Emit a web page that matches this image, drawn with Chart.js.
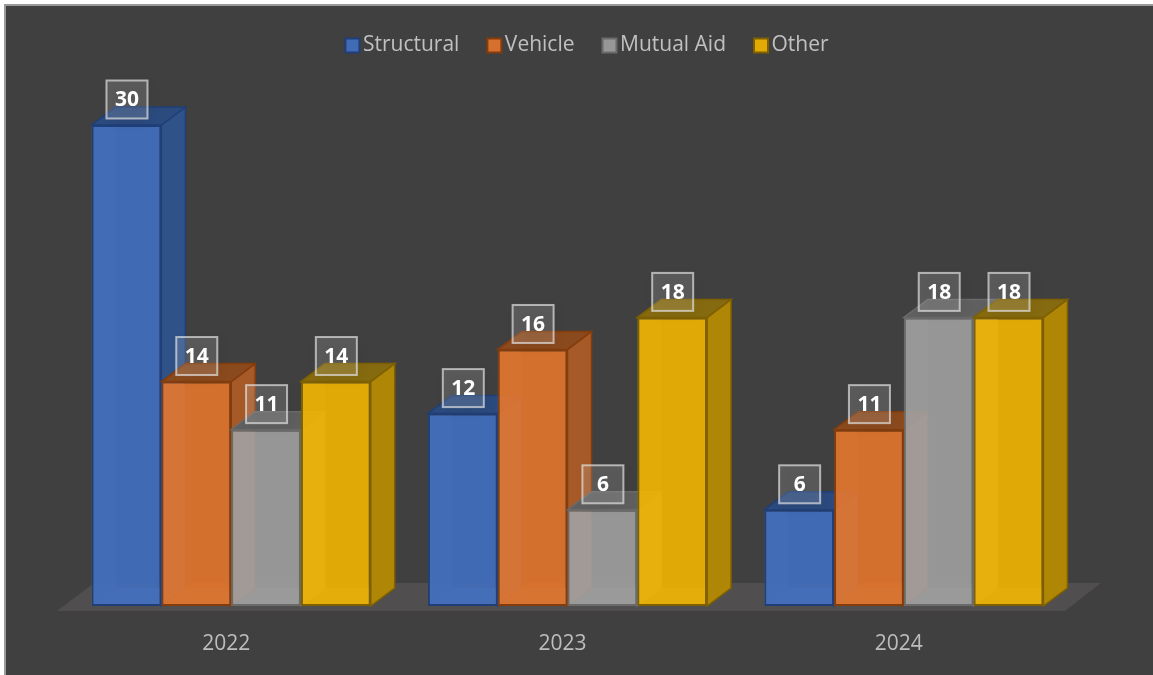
<!DOCTYPE html>
<html>
<head>
<meta charset="utf-8">
<title>Incidents by type</title>
<script src="https://cdn.jsdelivr.net/npm/chart.js@4/dist/chart.umd.min.js"></script>
<style>
  html, body { margin: 0; padding: 0; background: #fff; overflow: hidden; }
  #chart { display: block; }
</style>
</head>
<body>
<canvas id="chart" width="1153" height="675"></canvas>
<script>
const years = ['2022', '2023', '2024'];
const structural = [30, 12, 6];
const vehicle = [14, 16, 11];
const mutualAid = [11, 6, 18];
const other = [14, 18, 18];

// the fronts are see-through, so the neighbour's side shows as a faint strip
const palette = [
    { front: 'rgba(64,111,192,0.9)', solid: '#416bb5', edge: '#203f78', side: '#2f5289', top: '#2b4a7d' },
    { front: 'rgba(228,117,43,0.9)', solid: '#d6702e', edge: '#843c0c', side: '#a65a28', top: '#8a4a1e' },
    { front: 'rgba(160,160,160,0.9)', solid: '#979797', edge: '#6a6a6a', side: '#7a7a7a', top: '#5f5f5f' },
    { front: 'rgba(242,181,0,0.9)', solid: '#e1aa05', edge: '#7f6000', side: '#b08606', top: '#856a10' }
];

const DEPTH_X = 24;
const DEPTH_Y = 18;

function poly(ctx, pts, fill, stroke) {
    ctx.beginPath();
    pts.forEach((p, i) => i ? ctx.lineTo(p[0], p[1]) : ctx.moveTo(p[0], p[1]));
    ctx.closePath();
    ctx.fillStyle = fill;
    ctx.fill();
    if (stroke) {
        ctx.strokeStyle = stroke;
        ctx.lineWidth = 1.5;
        ctx.stroke();
    }
}

const backdrop = {
    id: 'backdrop',
    beforeInit(chart) {
        // room between the legend and the tallest bar
        const fit = chart.legend.fit;
        chart.legend.fit = function () {
            fit.call(this);
            this.height += 59;
        };
    },
    afterLayout(chart) {
        // the legend is centred on the picture, not on the plot
        chart.legend.left += 19;
        chart.legend.right += 19;
    },
    beforeDraw(chart) {
        const { ctx, chartArea, scales } = chart;
        ctx.save();
        ctx.fillStyle = '#fff';
        ctx.fillRect(0, 0, chart.width, chart.height);
        ctx.fillStyle = '#9a9a9a';
        ctx.fillRect(4, 4, chart.width, chart.height);
        ctx.fillStyle = '#404040';
        ctx.fillRect(6, 6, chart.width, chart.height);
        // floor of the 3d box
        const y0 = scales.y.getPixelForValue(0);
        poly(ctx, [
            [chartArea.left - 6, y0 + 5],
            [chartArea.left + 31, y0 - 23],
            [chartArea.right + 29, y0 - 23],
            [chartArea.right - 7, y0 + 5]
        ], '#504e4e');
        ctx.restore();
    }
};

const bars3d = {
    id: 'bars3d',
    beforeDatasetsDraw(chart) {
        const ctx = chart.ctx;
        chart.data.datasets.forEach((ds, i) => {
            const meta = chart.getDatasetMeta(i);
            const c = palette[i];
            meta.data.forEach(bar => {
                const l = bar.x - bar.width / 2, r = bar.x + bar.width / 2;
                const t = bar.y, b = bar.base;
                ctx.save();
                // inner walls, seen through the glassy front
                poly(ctx, [[l, b], [r, b], [r + DEPTH_X, b - DEPTH_Y], [l + DEPTH_X, b - DEPTH_Y]], 'rgba(255,255,255,0.15)');
                poly(ctx, [[l, t], [l + DEPTH_X, t - DEPTH_Y], [l + DEPTH_X, b - DEPTH_Y], [l, b]], 'rgba(255,255,255,0.1)');
                poly(ctx, [[r, t], [r + DEPTH_X, t - DEPTH_Y], [r + DEPTH_X, b - DEPTH_Y], [r, b]], c.side, c.edge);
                poly(ctx, [[l, t], [l + DEPTH_X, t - DEPTH_Y], [r + DEPTH_X, t - DEPTH_Y], [r, t]], c.top, c.edge);
                ctx.restore();
            });
            meta.controller.draw();
        });
    },
    beforeDatasetDraw() {
        return false;
    }
};

const valueLabels = {
    id: 'valueLabels',
    afterDatasetsDraw(chart) {
        const ctx = chart.ctx;
        chart.data.datasets.forEach((ds, i) => {
            chart.getDatasetMeta(i).data.forEach((bar, j) => {
                const w = 41, h = 38;
                const x = bar.x - w / 2 + 0.5, y = bar.y - 44.5;
                ctx.save();
                ctx.shadowColor = 'rgba(0,0,0,0.35)';
                ctx.shadowBlur = 12;
                ctx.shadowOffsetX = 3;
                ctx.shadowOffsetY = 3;
                ctx.fillStyle = 'rgba(255,255,255,0.14)';
                ctx.fillRect(x, y, w, h);
                ctx.shadowColor = 'transparent';
                ctx.strokeStyle = 'rgba(225,225,225,0.7)';
                ctx.lineWidth = 2;
                ctx.strokeRect(x, y, w, h);
                ctx.fillStyle = '#fff';
                ctx.font = 'bold 21px "Open Sans"';
                ctx.textAlign = 'center';
                ctx.textBaseline = 'middle';
                ctx.fillText(String(ds.data[j]), x + w / 2, y + h / 2 + 1);
                ctx.restore();
            });
        });
    }
};

// swatches sit on the legend hit boxes, the library's own gap is too wide for them
const legendSwatches = {
    id: 'legendSwatches',
    afterDraw(chart) {
        const ctx = chart.ctx;
        chart.legend.legendHitBoxes.forEach((box, i) => {
            const c = palette[i];
            ctx.save();
            ctx.fillStyle = c.solid;
            ctx.strokeStyle = c.edge;
            ctx.lineWidth = 2;
            const y = box.top + box.height / 2 - 7;
            ctx.fillRect(box.left + 1, y, 14, 14);
            ctx.strokeRect(box.left + 1, y, 14, 14);
            ctx.restore();
        });
    }
};

function series(label, data, i) {
    return {
        label,
        data,
        backgroundColor: palette[i].front,
        borderColor: palette[i].edge,
        borderWidth: 2,
        borderSkipped: false
    };
}

new Chart(document.getElementById('chart'), {
    type: 'bar',
    data: {
        labels: years,
        datasets: [
            series('Structural', structural, 0),
            series('Vehicle', vehicle, 1),
            series('Mutual Aid', mutualAid, 2),
            series('Other', other, 3)
        ]
    },
    options: {
        responsive: false,
        animation: false,
        layout: { padding: { left: 63, right: 81, top: 8, bottom: 0 } },
        datasets: { bar: { categoryPercentage: 0.83, barPercentage: 1 } },
        plugins: {
            tooltip: { enabled: false },
            legend: {
                position: 'top',
                onClick: null,
                labels: {
                    boxWidth: 8,
                    boxHeight: 8,
                    padding: 27,
                    color: 'rgba(0,0,0,0)',
                    font: { family: '"Open Sans"', size: 21 },
                    generateLabels(chart) {
                        return chart.data.datasets.map((ds, i) => ({
                            text: ds.label,
                            fontColor: '#c0c0c0',
                            fillStyle: 'transparent',
                            strokeStyle: 'transparent',
                            lineWidth: 0,
                            datasetIndex: i
                        }));
                    }
                }
            }
        },
        scales: {
            x: {
                grid: { display: false },
                border: { display: false },
                afterFit(scale) {
                    scale.height = 69;
                },
                ticks: { color: '#bdbdbd', font: { family: '"Open Sans"', size: 21 }, padding: 17, labelOffset: -5 }
            },
            y: {
                display: false,
                min: 0,
                max: 30
            }
        }
    },
    plugins: [backdrop, bars3d, valueLabels, legendSwatches]
});
</script>
</body>
</html>
